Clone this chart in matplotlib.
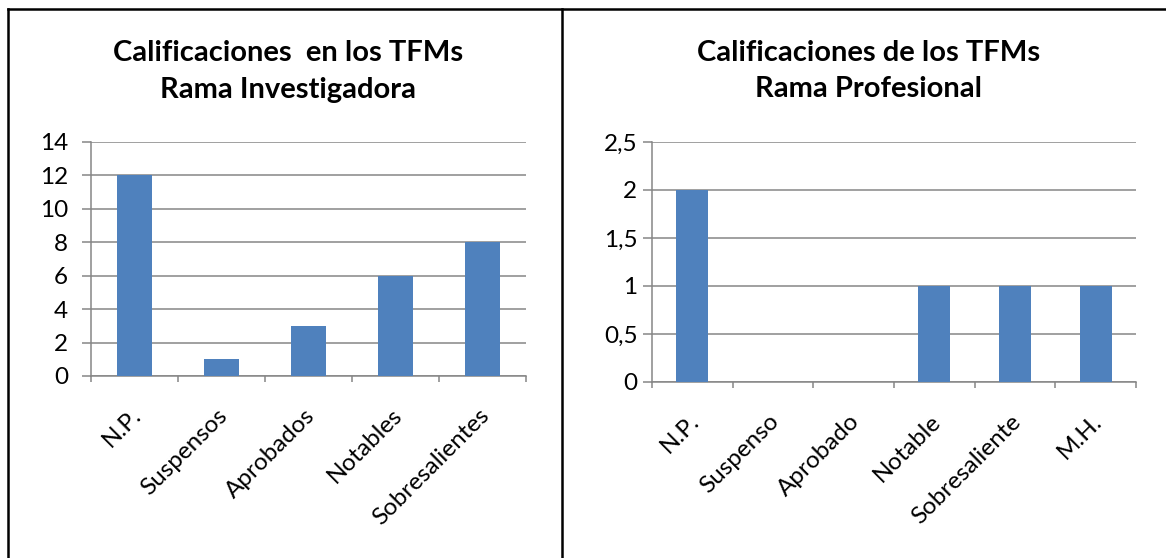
import matplotlib
matplotlib.use("Agg")
import matplotlib.pyplot as plt
from matplotlib.lines import Line2D
from matplotlib.ticker import FuncFormatter
import matplotlib.transforms as mtransforms

# datos
cat_inv = ['N.P.', 'Suspensos', 'Aprobados', 'Notables', 'Sobresalientes']
val_inv = [12, 1, 3, 6, 8]
cat_prof = ['N.P.', 'Suspenso', 'Aprobado', 'Notable', 'Sobresaliente', 'M.H.']
val_prof = [2, 0, 0, 1, 1, 1]

W, H = 1166, 558
plt.rcParams['font.family'] = ['Lato', 'DejaVu Sans']

fig = plt.figure(figsize=(W / 100, H / 100), dpi=100)

BAR = '#4F81BD'
GRID = '#868686'


def px_axes(x0, x1, ytop, ybot):
    return fig.add_axes([x0 / W, (H - ybot) / H, (x1 - x0) / W, (ybot - ytop) / H])


def draw_panel(ax, cats, vals, ymax, ystep, ypad, fmt):
    n = len(cats)
    ax.bar(range(n), vals, width=0.4, color=BAR, zorder=3)
    ax.set_xlim(-0.5, n - 0.5)
    ax.set_ylim(0, ymax)
    ticks = [i * ystep for i in range(int(round(ymax / ystep)) + 1)]
    ax.set_yticks(ticks)
    ax.yaxis.set_major_formatter(FuncFormatter(fmt))
    ax.grid(axis='y', color=GRID, linewidth=1.1, zorder=0)
    for s in ['top', 'right']:
        ax.spines[s].set_visible(False)
    for s in ['left', 'bottom']:
        ax.spines[s].set_color(GRID)
        ax.spines[s].set_linewidth(1.1)
    ax.tick_params(axis='y', direction='out', length=6.5, width=1.1, color=GRID,
                   labelsize=17.5, pad=ypad, labelcolor='black')
    # marcas en los limites de categoria
    ax.set_xticks([i - 0.5 for i in range(n + 1)], minor=True)
    ax.tick_params(axis='x', which='minor', direction='out', length=4.5, width=1.1, color=GRID)
    ax.set_xticks(range(n))
    ax.set_xticklabels(cats, rotation=45, ha='right', va='center', rotation_mode='anchor')
    ax.tick_params(axis='x', which='major', length=0, labelsize=17.5, pad=0)
    off = mtransforms.ScaledTranslation(3 / 100, -36 / 100, fig.dpi_scale_trans)
    for lab in ax.get_xticklabels():
        lab.set_transform(lab.get_transform() + off)


def fmt_int(v, p):
    return '%d' % v


def fmt_comma(v, p):
    s = ('%g' % v)
    return s.replace('.', ',')


ax1 = px_axes(91, 526, 142, 376)
draw_panel(ax1, cat_inv, val_inv, 14, 2, 10, fmt_int)

ax2 = px_axes(652, 1136, 142, 382)
draw_panel(ax2, cat_prof, val_prof, 2.5, 0.5, 4, fmt_comma)

# titulos
tkw = dict(ha='center', va='baseline', fontsize=21, fontweight='bold')
fig.text(288 / W, (H - 61) / H, 'Calificaciones  en los TFMs', **tkw)
fig.text(288 / W, (H - 98) / H, 'Rama Investigadora', **tkw)
fig.text(869 / W, (H - 61) / H, 'Calificaciones de los TFMs', **tkw)
fig.text(869 / W, (H - 97) / H, 'Rama Profesional', **tkw)

# bordes de la tabla
lkw = dict(color='black', linewidth=1.8, transform=fig.transFigure)
fig.add_artist(Line2D([7.5 / W, 1], [1 - 9 / H, 1 - 9 / H], **lkw))
fig.add_artist(Line2D([7.5 / W, 7.5 / W], [0, 1 - 9 / H], **lkw))
fig.add_artist(Line2D([562 / W, 562 / W], [0, 1 - 9 / H], **lkw))

fig.savefig('out.png', dpi=100)
